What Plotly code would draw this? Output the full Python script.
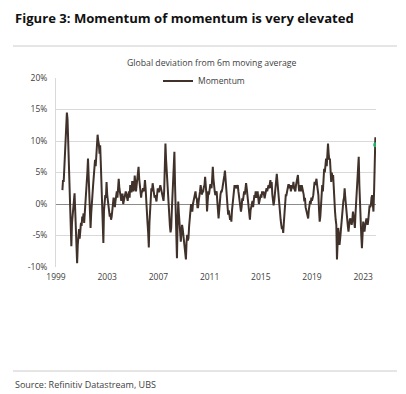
import plotly.graph_objects as go

# Momentum (%, global deviation from 6m moving average).
# One small list per calendar year; points every 0.05 year (1999 starts mid-year).
mom_1999 = [2.2, 3.8, 3.5, 6.0, 7.5, 10.5, 11.5, 14.5, 13.5, 9.5]
mom_2000 = [7.5, 4.0, 0.0, -3.0, -6.7, -3.0, -2.0, -0.5, 0.5, 1.7, -1.0, -4.5, -7.5, -9.4, -6.5, -5.0, -4.0, -5.5, -4.0, -3.0]
mom_2001 = [-3.5, -2.0, -2.5, -1.5, -3.0, -1.5, -1.0, 0.5, 2.0, 5.0, 7.2, 4.0, 1.0, -2.0, -3.8, -1.5, -0.5, 1.5, 3.0, 4.5]
mom_2002 = [5.0, 7.0, 6.0, 8.0, 9.0, 11.0, 10.0, 9.5, 8.0, 9.3, 6.5, 3.5, -1.0, -4.0, -6.2, -1.0, 0.5, 1.4, 1.0, 3.5]
mom_2003 = [1.5, 0.5, -0.5, -1.0, -2.0, -1.5, -2.5, -2.0, -1.0, 0.0, 1.0, 0.5, -0.5, 0.5, 1.5, 2.0, 1.0, 3.0, 4.0, 2.5]
mom_2004 = [2.0, 1.0, 0.5, 1.5, 1.5, 0.0, 0.5, 1.0, 1.0, 2.0, 1.5, 0.5, 0.5, 1.5, 2.0, 1.0, 3.0, 2.0, 2.0, 3.5]
mom_2005 = [3.5, 2.0, 2.5, 4.5, 3.0, 2.0, 3.0, 4.0, 5.0, 5.9, 4.0, 3.0, 1.5, 1.0, 2.0, 2.0, 2.5, 2.0, 2.5, 3.8]
mom_2006 = [2.5, 0.0, -1.5, -3.0, -4.5, -6.9, -3.0, -1.2, 0.5, 2.5, 2.0, 3.3, 2.5, 2.0, 1.0, 1.4, 0.5, 0.4, 1.5, 2.5]
mom_2007 = [2.0, 2.0, 2.5, 3.0, 2.5, 2.0, 1.0, 1.0, 0.5, 2.0, 6.7, 9.6, 7.0, 5.0, 3.0, 2.0, -0.5, -2.3, -3.5, -4.5]
mom_2008 = [-3.8, -1.0, 1.0, 3.0, 5.5, 8.3, 3.0, -1.2, -5.0, -8.6, -3.0, 0.4, -1.5, -3.3, -4.5, -6.0, -4.5, -3.3, -4.0, -5.0]
mom_2009 = [-6.5, -7.5, -8.0, -8.8, -6.0, -4.9, -5.8, -5.4, -3.5, -2.3, -1.0, 0.0, -0.5, -1.2, 0.0, 0.9, 1.0, 1.5, 2.0, 1.0]
mom_2010 = [0.9, -0.5, -0.5, 0.5, 1.0, 2.0, 3.0, 2.0, 1.5, 2.0, 2.0, 2.7, 3.0, 4.3, 3.0, 1.5, -1.2, 0.5, 2.0, 1.5]
mom_2011 = [2.5, 3.0, 3.0, 2.5, 4.0, 5.9, 4.0, 2.5, 2.0, 1.4, 2.0, 2.0, 0.5, -1.5, -2.3, -1.0, 1.4, 1.5, 2.0, 2.0]
mom_2012 = [2.5, 3.0, 4.0, 4.5, 5.3, 4.0, 3.0, 1.5, 0.0, -1.7, -1.0, -2.0, -2.5, -2.0, -2.8, -1.0, 0.4, 1.5, 2.5, 3.0]
mom_2013 = [2.5, 3.0, 2.5, 3.0, 3.0, 2.0, 1.0, 0.0, -0.5, -1.2, -0.5, 0.9, 0.5, 1.5, 2.0, 1.5, 2.5, 3.3, 2.5, 1.4]
mom_2014 = [1.0, -0.5, -1.5, -2.5, -1.0, -0.5, 0.0, 0.5, -0.5, 0.5, 1.4, 1.0, 2.0, 1.5, 1.0, 2.0, 1.0, 0.0, 0.5, 1.0]
mom_2015 = [1.5, 1.0, 2.0, 1.5, 2.0, 1.5, 0.9, 1.5, 2.0, 2.5, 2.0, 3.0, 3.0, 2.5, 3.0, 3.8, 2.5, 3.5, 1.5, 0.5]
mom_2016 = [-0.2, 0.5, 1.4, 2.5, 3.5, 4.8, 3.5, 2.0, 0.5, -0.5, -1.7, -2.5, -3.3, -4.0, -3.5, -4.6, -3.0, -1.2, 0.0, 1.4]
mom_2017 = [1.4, 2.0, 2.5, 3.0, 3.0, 2.5, 3.0, 2.0, 2.5, 3.0, 2.5, 3.5, 2.5, 2.0, 2.0, 3.0, 3.5, 4.0, 4.6, 3.0]
mom_2018 = [2.0, 3.0, 2.5, 2.0, 3.0, 2.5, 2.5, 1.5, 0.4, 1.0, -0.5, -1.0, -1.5, -2.0, -2.3, -1.0, 0.0, 0.5, 0.0, 1.0]
mom_2019 = [0.5, 1.0, 1.4, 2.5, 3.5, 3.0, 4.0, 4.0, 3.0, 2.0, 1.4, -1.0, -2.8, -2.0, -0.7, 0.5, 3.0, 2.0, 4.5, 5.6]
mom_2020 = [5.0, 6.5, 7.2, 6.0, 8.5, 9.6, 8.0, 7.0, 7.2, 5.0, 3.5, 5.0, 4.0, 4.6, 2.0, 0.0, -1.2, -2.5, -3.3, -8.8]
mom_2021 = [-5.5, -3.8, -5.0, -6.5, -5.5, -4.0, -3.0, -2.3, -1.0, 0.5, 1.0, 2.5, 1.0, -0.5, -1.2, -2.5, -3.5, -4.4, -3.0, -2.5]
mom_2022 = [-2.3, -3.0, -3.3, -2.5, -1.2, -2.0, -3.0, -3.8, -1.5, 0.4, 2.0, 4.5, 5.0, 7.5, 3.0, -1.2, -3.0, -5.0, -7.0, -4.0]
mom_2023 = [-2.8, -3.5, -4.4, -3.5, -3.0, -2.3, -3.0, -3.3, -2.5, -1.5, -0.2, -0.5, -0.2, 1.0, 1.4, 0.0, -1.2, 2.0, 5.6, 10.6]

# latest observation (highlighted with a green marker)
latest_date = [2023.98]
latest_value = [9.4]

years = list(range(1999, 2024))
yearly = [mom_1999, mom_2000, mom_2001, mom_2002, mom_2003, mom_2004, mom_2005, mom_2006,
          mom_2007, mom_2008, mom_2009, mom_2010, mom_2011, mom_2012, mom_2013, mom_2014,
          mom_2015, mom_2016, mom_2017, mom_2018, mom_2019, mom_2020, mom_2021, mom_2022, mom_2023]

dates, values = [], []
for yr, vals in zip(years, yearly):
    start = 20 - len(vals)  # partial first year is aligned to year end
    for i, v in enumerate(vals):
        dates.append(round(yr + (start + i) * 0.05, 3))
        values.append(v)
dates += latest_date
values += latest_value

x_ticks = [1999, 2003, 2007, 2011, 2015, 2019, 2023]
y_ticks = [-10, -5, 0, 5, 10, 15, 20]
y_tick_text = [f"{v}%" for v in y_ticks]

FONT = "Open Sans"
OFF = 8  # page body margin
W, H = 406 - OFF, 394 - OFF
L, T = 56 - OFF, 78 - OFF
R = W - (376 - OFF)
B = H - (267 - OFF)
PW, PH = W - L - R, H - T - B

def px(x):  # reference screen pixel -> paper
    return (x - OFF - L) / PW

def py(y):
    return (H - B - (y - OFF)) / PH

fig = go.Figure()
fig.add_trace(go.Scatter(x=dates, y=values, mode="lines", name="Momentum",
                         line=dict(color="#40322a", width=2.0)))
fig.add_trace(go.Scatter(x=latest_date, y=latest_value, mode="markers", showlegend=False,
                         marker=dict(color="#22b062", size=5, symbol="circle")))

fig.update_layout(
    width=W, height=H,
    margin=dict(l=L, r=R, t=T, b=B),
    paper_bgcolor="white", plot_bgcolor="white",
    font=dict(family=FONT, color="#404040", size=9),
    showlegend=True,
    legend=dict(x=px(158), y=py(81), xanchor="left", yanchor="middle",
                orientation="h", bgcolor="rgba(0,0,0,0)",
                font=dict(size=8.5, color="#404040")),
    xaxis=dict(range=[1999, 2024], tickvals=x_ticks, ticktext=[str(t) for t in x_ticks],
               showgrid=False, zeroline=False, showline=False, ticks="",
               ticklabelstandoff=3,
               tickfont=dict(size=8.5, color="#404040")),
    yaxis=dict(range=[-10, 20], tickvals=y_ticks, ticktext=y_tick_text,
               showgrid=True, gridcolor="#d9d9d9", gridwidth=1,
               zeroline=True, zerolinecolor="#8c8c8c", zerolinewidth=1,
               showline=True, linecolor="#d9d9d9", linewidth=1,
               ticks="", ticklabelstandoff=6,
               tickfont=dict(size=8.5, color="#404040")),
    annotations=[
        dict(text="<b>Figure 3: Momentum of momentum is very elevated</b>",
             x=px(13), y=py(17.5), xref="paper", yref="paper",
             xanchor="left", yanchor="middle", showarrow=False,
             font=dict(size=13.1, color="#111111", family=FONT)),
        dict(text="Global deviation from 6m moving average",
             x=px(211), y=py(63), xref="paper", yref="paper",
             xanchor="center", yanchor="middle", showarrow=False,
             font=dict(size=8.7, color="#404040", family=FONT)),
        dict(text="Source: Refinitiv Datastream, UBS",
             x=px(13), y=py(384), xref="paper", yref="paper",
             xanchor="left", yanchor="middle", showarrow=False,
             font=dict(size=9, color="#404040", family=FONT)),
    ],
    shapes=[
        dict(type="line", xref="paper", yref="paper", x0=px(13), x1=px(397),
             y0=py(46), y1=py(46), line=dict(color="#cccccc", width=1)),
        dict(type="line", xref="paper", yref="paper", x0=px(13), x1=px(397),
             y0=py(371), y1=py(371), line=dict(color="#cccccc", width=1)),
    ],
)

fig.write_html("out.html")
